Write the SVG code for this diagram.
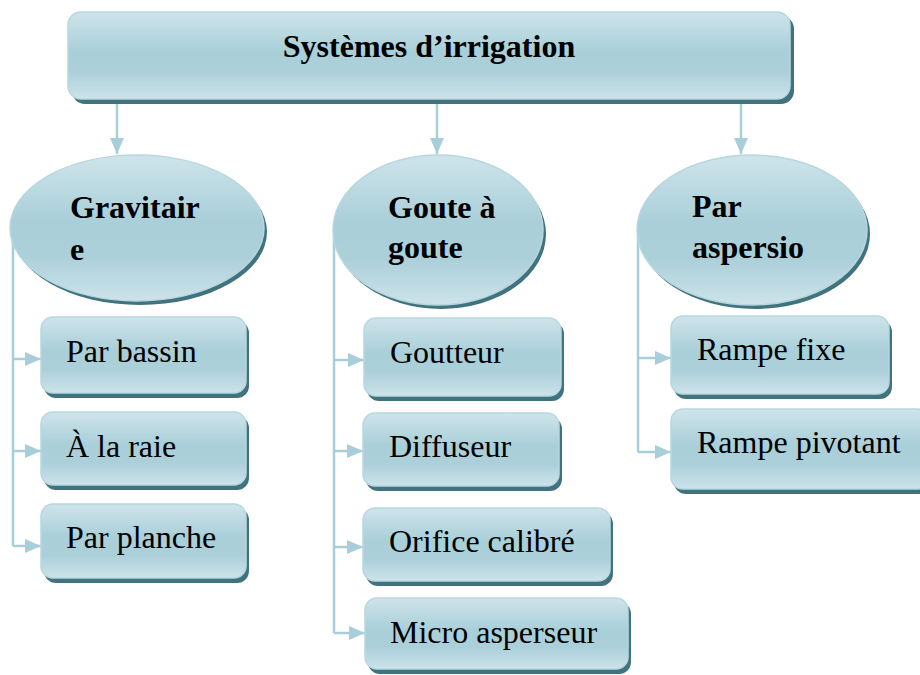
<svg xmlns="http://www.w3.org/2000/svg" width="920" height="675" viewBox="0 0 920 675">
  <defs>
    <linearGradient id="fillGrad" x1="0" y1="0" x2="0" y2="1">
      <stop offset="0" stop-color="#cfe4ea"/>
      <stop offset="0.45" stop-color="#a9cfd9"/>
      <stop offset="0.7" stop-color="#acd0da"/>
      <stop offset="1" stop-color="#cde3e9"/>
    </linearGradient>
    <marker id="arrow" viewBox="0 0 16 14" refX="16" refY="7" markerWidth="16" markerHeight="14" markerUnits="userSpaceOnUse" orient="auto">
      <path d="M0,0 L16,7 L0,14 Z" fill="#a8ced9"/>
    </marker>
  </defs>
  <style>
    .box { fill: url(#fillGrad); stroke: #b7d7e0; stroke-width: 1.5; }
    .shadow { fill: #41737f; }
    .conn { fill: none; stroke: #a8ced9; stroke-width: 2.5; }
    .arr { marker-end: url(#arrow); }
    text { font-family: 'Liberation Serif', 'DejaVu Serif', serif; fill: #000; }
    .title { font-weight: bold; font-size: 32px; }
    .label { font-size: 32px; }
  </style>
  <rect width="920" height="675" fill="#ffffff"/>

  <!-- connectors -->
  <g id="connectors">
    <path class="conn arr" d="M117,98 V154"/>
    <path class="conn arr" d="M437,98 V154"/>
    <path class="conn arr" d="M741,98 V154"/>
    <path class="conn" d="M13,235 V546"/>
    <path class="conn arr" d="M13,359 H41"/>
    <path class="conn arr" d="M13,451 H41"/>
    <path class="conn arr" d="M13,546 H41"/>
    <path class="conn" d="M334,235 V633"/>
    <path class="conn arr" d="M334,360 H364"/>
    <path class="conn arr" d="M334,451 H363"/>
    <path class="conn arr" d="M334,547 H363"/>
    <path class="conn arr" d="M334,633 H365"/>
    <path class="conn" d="M638,235 V452"/>
    <path class="conn arr" d="M638,358 H671"/>
    <path class="conn arr" d="M638,452 H671"/>
  </g>

  <!-- root -->
  <g id="root">
    <rect class="shadow" x="72" y="16" width="722" height="88" rx="13"/>
    <rect class="box" x="68" y="12" width="722" height="87" rx="13"/>
    <text class="title" x="429" y="57" text-anchor="middle">Systèmes d’irrigation</text>
  </g>

  <!-- category ellipses -->
  <g id="gravitaire">
    <ellipse class="shadow" cx="140" cy="232" rx="127" ry="73"/>
    <ellipse class="box" cx="137" cy="228" rx="127" ry="73"/>
    <text class="title" x="70" y="218">Gravitair</text>
    <text class="title" x="70" y="260">e</text>
  </g>
  <g id="goute">
    <ellipse class="shadow" cx="441" cy="234" rx="105" ry="75"/>
    <ellipse class="box" cx="438" cy="230" rx="105" ry="75"/>
    <text class="title" x="388" y="218">Goute à</text>
    <text class="title" x="388" y="258">goute</text>
  </g>
  <g id="aspersion">
    <ellipse class="shadow" cx="755" cy="234" rx="115" ry="75"/>
    <ellipse class="box" cx="752" cy="230" rx="115" ry="75"/>
    <text class="title" x="692" y="217">Par</text>
    <text class="title" x="692" y="258">aspersio</text>
  </g>

  <!-- gravity methods -->
  <g id="bassin">
    <rect class="shadow" x="44" y="321" width="205" height="77" rx="12"/>
    <rect class="box" x="41" y="317" width="205" height="76" rx="12"/>
    <text class="label" x="66" y="362">Par bassin</text>
  </g>
  <g id="raie">
    <rect class="shadow" x="44" y="416" width="205" height="74" rx="12"/>
    <rect class="box" x="41" y="412" width="205" height="73" rx="12"/>
    <text class="label" x="66" y="457">À la raie</text>
  </g>
  <g id="planche">
    <rect class="shadow" x="44" y="508" width="205" height="75" rx="12"/>
    <rect class="box" x="41" y="504" width="205" height="74" rx="12"/>
    <text class="label" x="66" y="548">Par planche</text>
  </g>

  <!-- drip methods -->
  <g id="goutteur">
    <rect class="shadow" x="367" y="322" width="197" height="79" rx="12"/>
    <rect class="box" x="364" y="318" width="197" height="78" rx="12"/>
    <text class="label" x="390" y="363">Goutteur</text>
  </g>
  <g id="diffuseur">
    <rect class="shadow" x="366" y="417" width="196" height="74" rx="12"/>
    <rect class="box" x="363" y="413" width="196" height="73" rx="12"/>
    <text class="label" x="389" y="457">Diffuseur</text>
  </g>
  <g id="orifice">
    <rect class="shadow" x="366" y="512" width="247" height="74" rx="12"/>
    <rect class="box" x="363" y="508" width="247" height="73" rx="12"/>
    <text class="label" x="389" y="552">Orifice calibré</text>
  </g>
  <g id="micro">
    <rect class="shadow" x="368" y="602" width="263" height="72" rx="12"/>
    <rect class="box" x="365" y="598" width="263" height="71" rx="12"/>
    <text class="label" x="390" y="643">Micro asperseur</text>
  </g>

  <!-- sprinkler methods -->
  <g id="rampe-fixe">
    <rect class="shadow" x="674" y="320" width="218" height="79" rx="12"/>
    <rect class="box" x="671" y="316" width="218" height="78" rx="12"/>
    <text class="label" x="697" y="360">Rampe fixe</text>
  </g>
  <g id="rampe-pivotant">
    <rect class="shadow" x="674" y="413" width="258" height="81" rx="12"/>
    <rect class="box" x="671" y="409" width="258" height="80" rx="12"/>
    <text class="label" x="697" y="453">Rampe pivotant</text>
  </g>
</svg>
